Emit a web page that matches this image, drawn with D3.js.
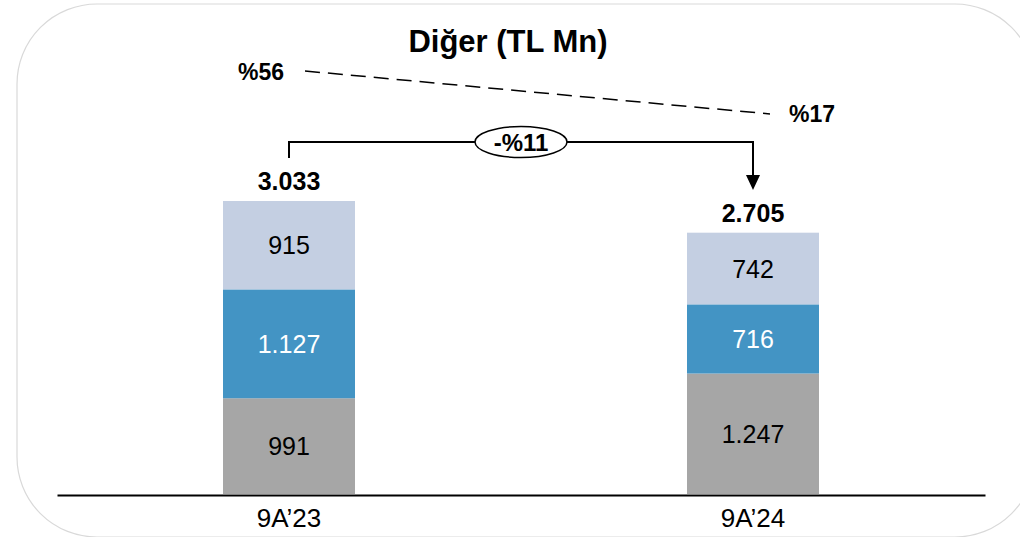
<!DOCTYPE html>
<html><head><meta charset="utf-8">
<script src="https://cdn.jsdelivr.net/npm/d3@7"></script>
<style>
html,body{margin:0;padding:0;background:#fff;}
text{font-family:"Liberation Sans",Arial,sans-serif;}
</style></head>
<body>
<svg id="chart" width="1020" height="537"></svg>
<script>
// ---- data ----
const title = "Diğer (TL Mn)";
const categories = ["9A\u201923", "9A\u201924"];
const seriesNames = ["s1", "s2", "s3"]; // bottom -> top
const seriesBottom = [991, 1247];
const seriesMiddle = [1127, 716];
const seriesTop = [915, 742];
const totalLabels = ["3.033", "2.705"];
const segmentLabels = [["991", "1.127", "915"], ["1.247", "716", "742"]];
const shareLabels = ["%56", "%17"];
const changeLabel = "-%11";

const colors = ["#a6a6a6", "#4394c4", "#c4cfe2"];
const labelColors = ["#000", "#fff", "#000"];

const svg = d3.select("#chart");

// background rounded frame
svg.append("rect").attr("x", 17).attr("y", 4).attr("width", 1018).attr("height", 533)
  .attr("rx", 80).attr("ry", 80).attr("fill", "#fff").attr("stroke", "#d9d9d9").attr("stroke-width", 1.2);

const x = d3.scaleBand().domain(categories).range([57, 985]).padding(0);
const cx = c => x(c) + x.bandwidth() / 2;
const y = d3.scaleLinear().domain([0, 3033]).range([494, 201]);
const barW = 132;

const rows = categories.map((c, i) => ({ cat: c, s1: seriesBottom[i], s2: seriesMiddle[i], s3: seriesTop[i] }));
const stack = d3.stack().keys(seriesNames)(rows);

stack.forEach((layer, li) => {
  svg.append("g").selectAll("rect").data(layer).join("rect")
    .attr("x", d => cx(d.data.cat) - barW / 2)
    .attr("width", barW)
    .attr("y", d => y(d[1]))
    .attr("height", d => y(d[0]) - y(d[1]))
    .attr("fill", colors[li]);
  svg.append("g").selectAll("text").data(layer).join("text")
    .attr("x", d => cx(d.data.cat))
    .attr("y", d => (y(d[0]) + y(d[1])) / 2)
    .attr("dy", "0.36em")
    .attr("text-anchor", "middle")
    .attr("font-size", 25)
    .attr("fill", labelColors[li])
    .text((d, i) => segmentLabels[i][li]);
});

// totals
const totals = rows.map(r => r.s1 + r.s2 + r.s3);
svg.append("g").selectAll("text").data(categories).join("text")
  .attr("x", c => cx(c))
  .attr("y", (c, i) => y(totals[i]) - 11)
  .attr("text-anchor", "middle")
  .attr("font-size", 25).attr("font-weight", "bold")
  .text((c, i) => totalLabels[i]);

// x axis
const axis = svg.append("g").attr("transform", "translate(0,495)")
  .call(d3.axisBottom(x).tickSize(0).tickPadding(14));
axis.select(".domain").attr("stroke", "#000").attr("stroke-width", 2);
axis.selectAll("text").attr("font-size", 26).attr("fill", "#000")
  .attr("font-family", "'Liberation Sans',Arial,sans-serif");

// title
svg.append("text").attr("x", 508).attr("y", 52).attr("text-anchor", "middle")
  .attr("font-size", 31).attr("font-weight", "bold").text(title);

// share labels and dashed trend
const c0 = cx(categories[0]), c1 = cx(categories[1]);
svg.append("text").attr("x", c0 - 28).attr("y", 80).attr("text-anchor", "middle")
  .attr("font-size", 23).attr("font-weight", "bold").text(shareLabels[0]);
svg.append("text").attr("x", c1 + 59).attr("y", 122).attr("text-anchor", "middle")
  .attr("font-size", 23).attr("font-weight", "bold").text(shareLabels[1]);
svg.append("line").attr("x1", c0 + 16).attr("y1", 71).attr("x2", c1 + 17).attr("y2", 114)
  .attr("stroke", "#000").attr("stroke-width", 1.5).attr("stroke-dasharray", "15,8");

// change bracket
const by = 142;
svg.append("path")
  .attr("d", `M${c0},${y(totals[0]) - 43}V${by}H${c1}V176`)
  .attr("fill", "none").attr("stroke", "#000").attr("stroke-width", 2);
svg.append("path")
  .attr("d", `M${c1 - 7},175L${c1 + 7},175L${c1},190Z`).attr("fill", "#000");
const ex = (c0 + c1) / 2;
svg.append("ellipse").attr("cx", ex).attr("cy", by).attr("rx", 46).attr("ry", 15.5)
  .attr("fill", "#fff").attr("stroke", "#000").attr("stroke-width", 1.5);
svg.append("text").attr("x", ex).attr("y", by).attr("dy", "0.36em").attr("text-anchor", "middle")
  .attr("font-size", 24).attr("font-weight", "bold").text(changeLabel);
</script>
</body></html>
